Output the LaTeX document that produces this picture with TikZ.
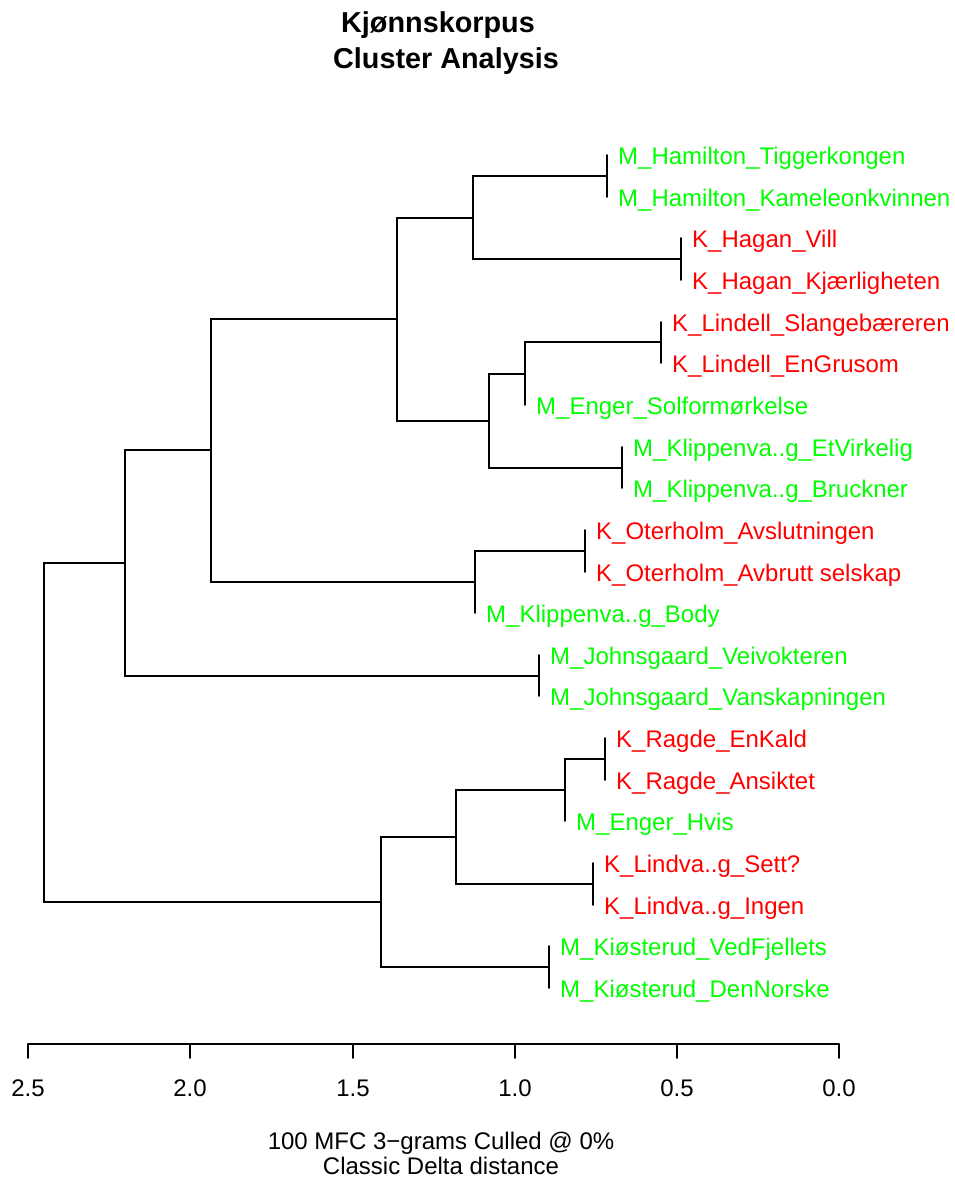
\documentclass[tikz,border=0pt]{standalone}
\usepackage{fontspec}
\setmainfont{Liberation Sans}
\definecolor{leafgreen}{RGB}{0,255,0}
\definecolor{leafred}{RGB}{255,0,0}
\begin{document}
\begin{tikzpicture}[x=1bp,y=-1bp,
  branch/.style={draw=black, line width=1.8bp, line cap=round, line join=miter},
  leaflabel/.style={anchor=base west, inner sep=0pt, font=\fontsize{24.09}{28}\selectfont},
  leafM/.style={leaflabel, text=leafgreen},
  leafK/.style={leaflabel, text=leafred},
  ticklabel/.style={anchor=base, inner sep=0pt, font=\fontsize{24.09}{28}\selectfont},
  titlestyle/.style={anchor=base west, inner sep=0pt, font=\fontsize{28.9}{34}\selectfont\bfseries},
  axistitle/.style={anchor=base, inner sep=0pt, font=\fontsize{24.09}{28}\selectfont}]

\fill[white] (0,0) rectangle (955,1186);
\useasboundingbox (0,0) rectangle (955,1186);

% title
\node[titlestyle] (title1) at (341,32) {Kjønnskorpus};
\node[titlestyle] (title2) at (333,68) {Cluster Analysis};

% leaf ends (x = merge height, y = leaf slot)
\coordinate (lf0)  at (607,155);
\coordinate (lf1)  at (607,197);
\coordinate (lf2)  at (681,238);
\coordinate (lf3)  at (681,280);
\coordinate (lf4)  at (661,322);
\coordinate (lf5)  at (661,363);
\coordinate (lf6)  at (525,405);
\coordinate (lf7)  at (622,447);
\coordinate (lf8)  at (622,488);
\coordinate (lf9)  at (585,530);
\coordinate (lf10) at (585,572);
\coordinate (lf11) at (475,613);
\coordinate (lf12) at (539,655);
\coordinate (lf13) at (539,696);
\coordinate (lf14) at (605,738);
\coordinate (lf15) at (605,780);
\coordinate (lf16) at (565,821);
\coordinate (lf17) at (593,863);
\coordinate (lf18) at (593,905);
\coordinate (lf19) at (549,946);
\coordinate (lf20) at (549,988);

% merge points
\coordinate (A) at (607,176);
\coordinate (B) at (681,259);
\coordinate (C) at (473,218);
\coordinate (D) at (661,342);
\coordinate (E) at (525,374);
\coordinate (F) at (622,468);
\coordinate (G) at (489,421);
\coordinate (H) at (397,319);
\coordinate (I) at (585,551);
\coordinate (J) at (475,582);
\coordinate (K) at (211,450);
\coordinate (L) at (539,676);
\coordinate (M) at (125,563);
\coordinate (N) at (605,759);
\coordinate (O) at (565,790);
\coordinate (P) at (593,884);
\coordinate (Q) at (456,837);
\coordinate (R) at (549,967);
\coordinate (S) at (381,902);
\coordinate (T) at (44,732);

% branches
\draw[branch] (lf0) -| (A) |- (lf1);
\draw[branch] (lf2) -| (B) |- (lf3);
\draw[branch] (A) -| (C) |- (B);
\draw[branch] (lf4) -| (D) |- (lf5);
\draw[branch] (D) -| (E) |- (lf6);
\draw[branch] (lf7) -| (F) |- (lf8);
\draw[branch] (E) -| (G) |- (F);
\draw[branch] (C) -| (H) |- (G);
\draw[branch] (lf9) -| (I) |- (lf10);
\draw[branch] (I) -| (J) |- (lf11);
\draw[branch] (H) -| (K) |- (J);
\draw[branch] (lf12) -| (L) |- (lf13);
\draw[branch] (K) -| (M) |- (L);
\draw[branch] (lf14) -| (N) |- (lf15);
\draw[branch] (N) -| (O) |- (lf16);
\draw[branch] (lf17) -| (P) |- (lf18);
\draw[branch] (O) -| (Q) |- (P);
\draw[branch] (lf19) -| (R) |- (lf20);
\draw[branch] (Q) -| (S) |- (R);
\draw[branch] (M) -| (T) |- (S);

% leaf labels
\node[leafM] (lab0)  at (618,164.5) {M\_Hamilton\_Tiggerkongen};
\node[leafM] (lab1)  at (618,206.5) {M\_Hamilton\_Kameleonkvinnen};
\node[leafK] (lab2)  at (692,247.5) {K\_Hagan\_Vill};
\node[leafK] (lab3)  at (692,289.5) {K\_Hagan\_Kjærligheten};
\node[leafK] (lab4)  at (672,331.5) {K\_Lindell\_Slangebæreren};
\node[leafK] (lab5)  at (672,372.5) {K\_Lindell\_EnGrusom};
\node[leafM] (lab6)  at (536,414.5) {M\_Enger\_Solformørkelse};
\node[leafM] (lab7)  at (633,456.5) {M\_Klippenva..g\_EtVirkelig};
\node[leafM] (lab8)  at (633,497.5) {M\_Klippenva..g\_Bruckner};
\node[leafK] (lab9)  at (596,539.5) {K\_Oterholm\_Avslutningen};
\node[leafK] (lab10) at (596,581.5) {K\_Oterholm\_Avbrutt selskap};
\node[leafM] (lab11) at (486,622.5) {M\_Klippenva..g\_Body};
\node[leafM] (lab12) at (550,664.5) {M\_Johnsgaard\_Veivokteren};
\node[leafM] (lab13) at (550,705.5) {M\_Johnsgaard\_Vanskapningen};
\node[leafK] (lab14) at (616,747.5) {K\_Ragde\_EnKald};
\node[leafK] (lab15) at (616,789.5) {K\_Ragde\_Ansiktet};
\node[leafM] (lab16) at (576,830.5) {M\_Enger\_Hvis};
\node[leafK] (lab17) at (604,872.5) {K\_Lindva..g\_Sett?};
\node[leafK] (lab18) at (604,914.5) {K\_Lindva..g\_Ingen};
\node[leafM] (lab19) at (560,955.5) {M\_Kiøsterud\_VedFjellets};
\node[leafM] (lab20) at (560,997.5) {M\_Kiøsterud\_DenNorske};

% distance axis
\coordinate (ax25) at (28,1044);
\coordinate (ax20) at (190,1044);
\coordinate (ax15) at (353,1044);
\coordinate (ax10) at (515,1044);
\coordinate (ax05) at (677,1044);
\coordinate (ax00) at (839,1044);
\draw[branch] (ax25) -- (ax00);
\foreach \t/\lab in {25/2.5,20/2.0,15/1.5,10/1.0,05/0.5,00/0.0}{
  \coordinate (tk\t) at ([yshift=-14bp]ax\t);
  \draw[branch] (ax\t) -- (tk\t);
  \node[ticklabel] (tl\t) at ([yshift=-52bp]ax\t) {\lab};
}

% axis caption
\node[axistitle] (cap1) at (441,1149) {100 MFC 3−grams Culled @ 0\%};
\node[axistitle] (cap2) at (441,1174) {Classic Delta distance};
\end{tikzpicture}
\end{document}
